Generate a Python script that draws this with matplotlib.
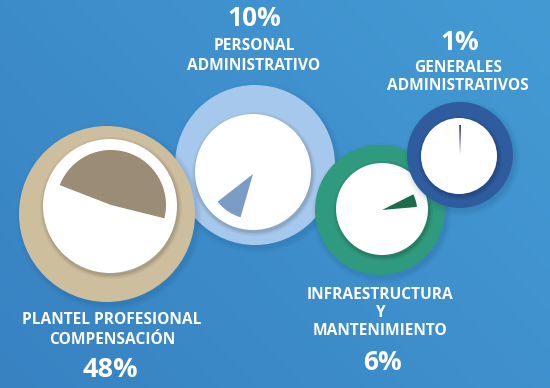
import numpy as np
import matplotlib
matplotlib.use("Agg")
import matplotlib.pyplot as plt
from matplotlib.patches import Circle

# Datos del gráfico (porcentaje del presupuesto por rubro)
categorias = ["PLANTEL PROFESIONAL\nCOMPENSACIÓN", "PERSONAL\nADMINISTRATIVO",
              "INFRAESTRUCTURA\nY\nMANTENIMIENTO", "GENERALES\nADMINISTRATIVOS"]
porcentajes = [48, 10, 6, 1]
etiquetas_pct = ["48%", "10%", "6%", "1%"]

# Estilo de cada círculo: anillo, relleno de la cuña, ángulo de inicio
color_anillo = ["#cdbe9e", "#a6c8ec", "#2f9a7d", "#2f5b9f"]
color_cuna = ["#9b8d75", "#7b9dc5", "#1b6c4b", "#2c4a80"]
angulo_inicio = [-14, 218, 5, 88]

H = 388  # alto en px, para pasar coordenadas de imagen a y hacia arriba

# (centro anillo, radio anillo, centro blanco, radio blanco, radio cuña, centro cuña)
geo = [
    ((107, 214), 88, (110, 206), 67, 55, (111, 205)),
    ((255, 165), 80, (253, 172), 58, 45, (253, 174)),
    ((380, 210), 65, (382, 209), 46, 35, (382, 210)),
    ((460, 155), 53, (459, 156), 38, 30, (460, 155)),
]

fig = plt.figure(figsize=(5.5, 3.88), dpi=100)
ax = fig.add_axes([0, 0, 1, 1])

# fondo degradado azul
gx, gy = np.meshgrid(np.linspace(0, 1, 200), np.linspace(0, 1, 200))
t = 0.6 * gx + 0.4 * (1 - gy)
c0 = np.array([0x38, 0x82, 0xc2]) / 255
c1 = np.array([0x44, 0x9b, 0xd4]) / 255
fondo = c0[None, None, :] * (1 - t[..., None]) + c1[None, None, :] * t[..., None]
ax.imshow(fondo, extent=[0, 550, 0, H], origin="upper", zorder=0, aspect="auto")

orden_z = [2, 1, 3, 4]  # tan sobre celeste, verde y azul encima


def yy(y):
    return H - y


for i in range(4):
    (cx, cy), r, (wx, wy), wr, pr, (px, py) = geo[i]
    z = orden_z[i] * 10
    # sombra suave
    for k, a in enumerate([0.06, 0.05, 0.04]):
        ax.add_patch(Circle((cx + 2, yy(cy) - 3), r + 1 + 2 * k, color="#0b3b66",
                            alpha=a, lw=0, zorder=z))
    ax.add_patch(Circle((cx, yy(cy)), r, color=color_anillo[i], lw=0, zorder=z + 1))
    for k, a in enumerate([0.08, 0.06, 0.04]):
        ax.add_patch(Circle((wx + 1, yy(wy) - 2), wr + 1 + 1.5 * k, color="#000000",
                            alpha=a, lw=0, zorder=z + 2))
    ax.add_patch(Circle((wx, yy(wy)), wr, color="white", lw=0, zorder=z + 3))
    cunas, _ = ax.pie([porcentajes[i], 100 - porcentajes[i]], center=(px, yy(py)),
                      radius=pr, startangle=angulo_inicio[i], counterclock=True,
                      colors=[color_cuna[i], "none"], frame=True,
                      wedgeprops=dict(linewidth=0))
    for w in cunas:
        w.set_zorder(z + 4)

fuente = ["Open Sans", "DejaVu Sans"]
txt = dict(color="white", fontweight="bold", family=fuente, ha="center", va="center",
           zorder=100)

# etiquetas: nombre y porcentaje de cada rubro
ax.text(112, yy(330), categorias[0], fontsize=11.2, linespacing=1.25, **txt)
ax.text(110, yy(370), etiquetas_pct[0], fontsize=19.5, **txt)

ax.text(254, yy(56), categorias[1], fontsize=11.2, linespacing=1.25, **txt)
ax.text(254, yy(19), etiquetas_pct[1], fontsize=19, **txt)

ax.text(380, yy(313), categorias[2], fontsize=11.2, linespacing=1.15, **txt)
ax.text(382, yy(362), etiquetas_pct[2], fontsize=19, **txt)

ax.text(458, yy(77), categorias[3], fontsize=11.2, linespacing=1.25, **txt)
ax.text(460, yy(42), etiquetas_pct[3], fontsize=19, **txt)

ax.set_xlim(0, 550)
ax.set_ylim(0, H)
ax.set_aspect("auto")
ax.axis("off")

fig.savefig("out.png", dpi=100)
